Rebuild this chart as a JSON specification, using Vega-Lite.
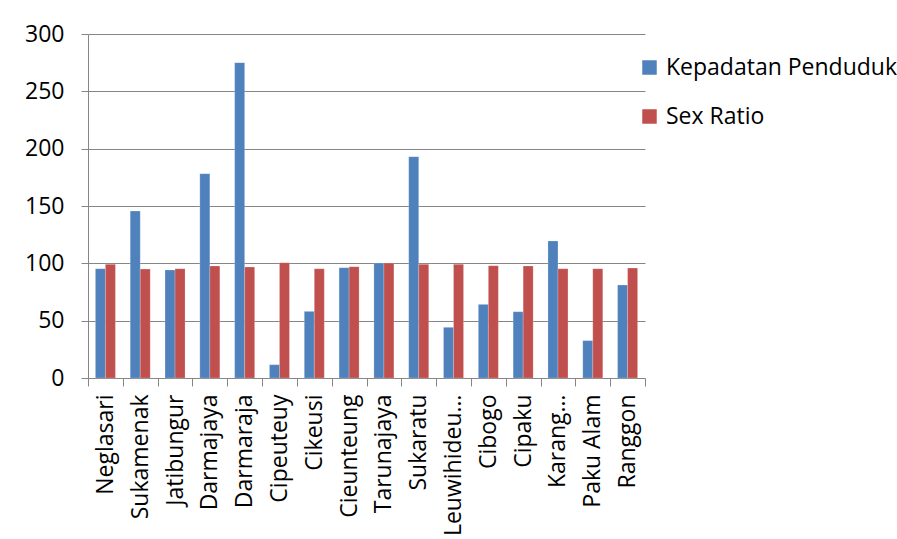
{
  "$schema": "https://vega.github.io/schema/vega-lite/v6.json",
  "autosize": "none",
  "width": 557,
  "height": 344,
  "padding": {"left": 88, "top": 34, "right": 252, "bottom": 161},
  "background": "white",
  "config": {
    "font": "Open Sans",
    "view": {"stroke": null},
    "axis": {"labelFont": "Open Sans", "labelColor": "black"}
  },
  "data": {
    "values": [
      {"desa": "Neglasari", "seri": "Kepadatan Penduduk", "nilai": 95.3},
      {"desa": "Neglasari", "seri": "Sex Ratio", "nilai": 99.1},
      {"desa": "Sukamenak", "seri": "Kepadatan Penduduk", "nilai": 145.6},
      {"desa": "Sukamenak", "seri": "Sex Ratio", "nilai": 95.0},
      {"desa": "Jatibungur", "seri": "Kepadatan Penduduk", "nilai": 94.2},
      {"desa": "Jatibungur", "seri": "Sex Ratio", "nilai": 95.3},
      {"desa": "Darmajaya", "seri": "Kepadatan Penduduk", "nilai": 178.2},
      {"desa": "Darmajaya", "seri": "Sex Ratio", "nilai": 97.7},
      {"desa": "Darmaraja", "seri": "Kepadatan Penduduk", "nilai": 275.0},
      {"desa": "Darmaraja", "seri": "Sex Ratio", "nilai": 96.8},
      {"desa": "Cipeuteuy", "seri": "Kepadatan Penduduk", "nilai": 11.6},
      {"desa": "Cipeuteuy", "seri": "Sex Ratio", "nilai": 100.6},
      {"desa": "Cikeusi", "seri": "Kepadatan Penduduk", "nilai": 58.1},
      {"desa": "Cikeusi", "seri": "Sex Ratio", "nilai": 95.3},
      {"desa": "Cieunteung", "seri": "Kepadatan Penduduk", "nilai": 96.2},
      {"desa": "Cieunteung", "seri": "Sex Ratio", "nilai": 97.1},
      {"desa": "Tarunajaya", "seri": "Kepadatan Penduduk", "nilai": 100.3},
      {"desa": "Tarunajaya", "seri": "Sex Ratio", "nilai": 100.3},
      {"desa": "Sukaratu", "seri": "Kepadatan Penduduk", "nilai": 193.0},
      {"desa": "Sukaratu", "seri": "Sex Ratio", "nilai": 99.1},
      {"desa": "Leuwihideu…", "seri": "Kepadatan Penduduk", "nilai": 44.2},
      {"desa": "Leuwihideu…", "seri": "Sex Ratio", "nilai": 99.1},
      {"desa": "Cibogo", "seri": "Kepadatan Penduduk", "nilai": 64.2},
      {"desa": "Cibogo", "seri": "Sex Ratio", "nilai": 98.0},
      {"desa": "Cipaku", "seri": "Kepadatan Penduduk", "nilai": 57.8},
      {"desa": "Cipaku", "seri": "Sex Ratio", "nilai": 97.7},
      {"desa": "Karang…", "seri": "Kepadatan Penduduk", "nilai": 119.5},
      {"desa": "Karang…", "seri": "Sex Ratio", "nilai": 95.3},
      {"desa": "Paku Alam", "seri": "Kepadatan Penduduk", "nilai": 32.6},
      {"desa": "Paku Alam", "seri": "Sex Ratio", "nilai": 95.3},
      {"desa": "Ranggon", "seri": "Kepadatan Penduduk", "nilai": 81.1},
      {"desa": "Ranggon", "seri": "Sex Ratio", "nilai": 95.9}
    ]
  },
  "mark": {"type": "bar", "stroke": "white", "strokeWidth": 0.5, "strokeOpacity": 0.4},
  "encoding": {
    "x": {
      "field": "desa",
      "type": "nominal",
      "sort": null,
      "scale": {"paddingInner": 0, "paddingOuter": 0},
      "axis": {
        "title": null,
        "labelAngle": -90,
        "labelAlign": "right",
        "labelBaseline": "middle",
        "labelFontSize": 23,
        "labelPadding": 8,
        "labelLimit": 300,
        "tickBand": "extent",
        "tickSize": 8,
        "tickColor": "#868686",
        "domainColor": "#868686",
        "grid": false
      }
    },
    "xOffset": {
      "field": "seri",
      "scale": {"paddingInner": 0, "paddingOuter": 0.74}
    },
    "y": {
      "field": "nilai",
      "type": "quantitative",
      "scale": {"domain": [0, 300], "nice": false},
      "axis": {
        "title": null,
        "values": [0, 50, 100, 150, 200, 250, 300],
        "labelFontSize": 23,
        "labelPadding": 17,
        "tickSize": 7,
        "tickColor": "#868686",
        "domainColor": "#868686",
        "gridColor": "#868686",
        "gridWidth": 1
      }
    },
    "color": {
      "field": "seri",
      "type": "nominal",
      "scale": {"domain": ["Kepadatan Penduduk", "Sex Ratio"], "range": ["#4F81BD", "#C0504D"]},
      "legend": {
        "title": null,
        "orient": "none",
        "legendX": 550,
        "legendY": 22,
        "symbolType": "square",
        "symbolSize": 210,
        "symbolStrokeWidth": 0,
        "labelFontSize": 23,
        "labelFont": "Open Sans",
        "labelColor": "black",
        "labelOffset": 5,
        "rowPadding": 25,
        "labelLimit": 300
      }
    }
  }
}
